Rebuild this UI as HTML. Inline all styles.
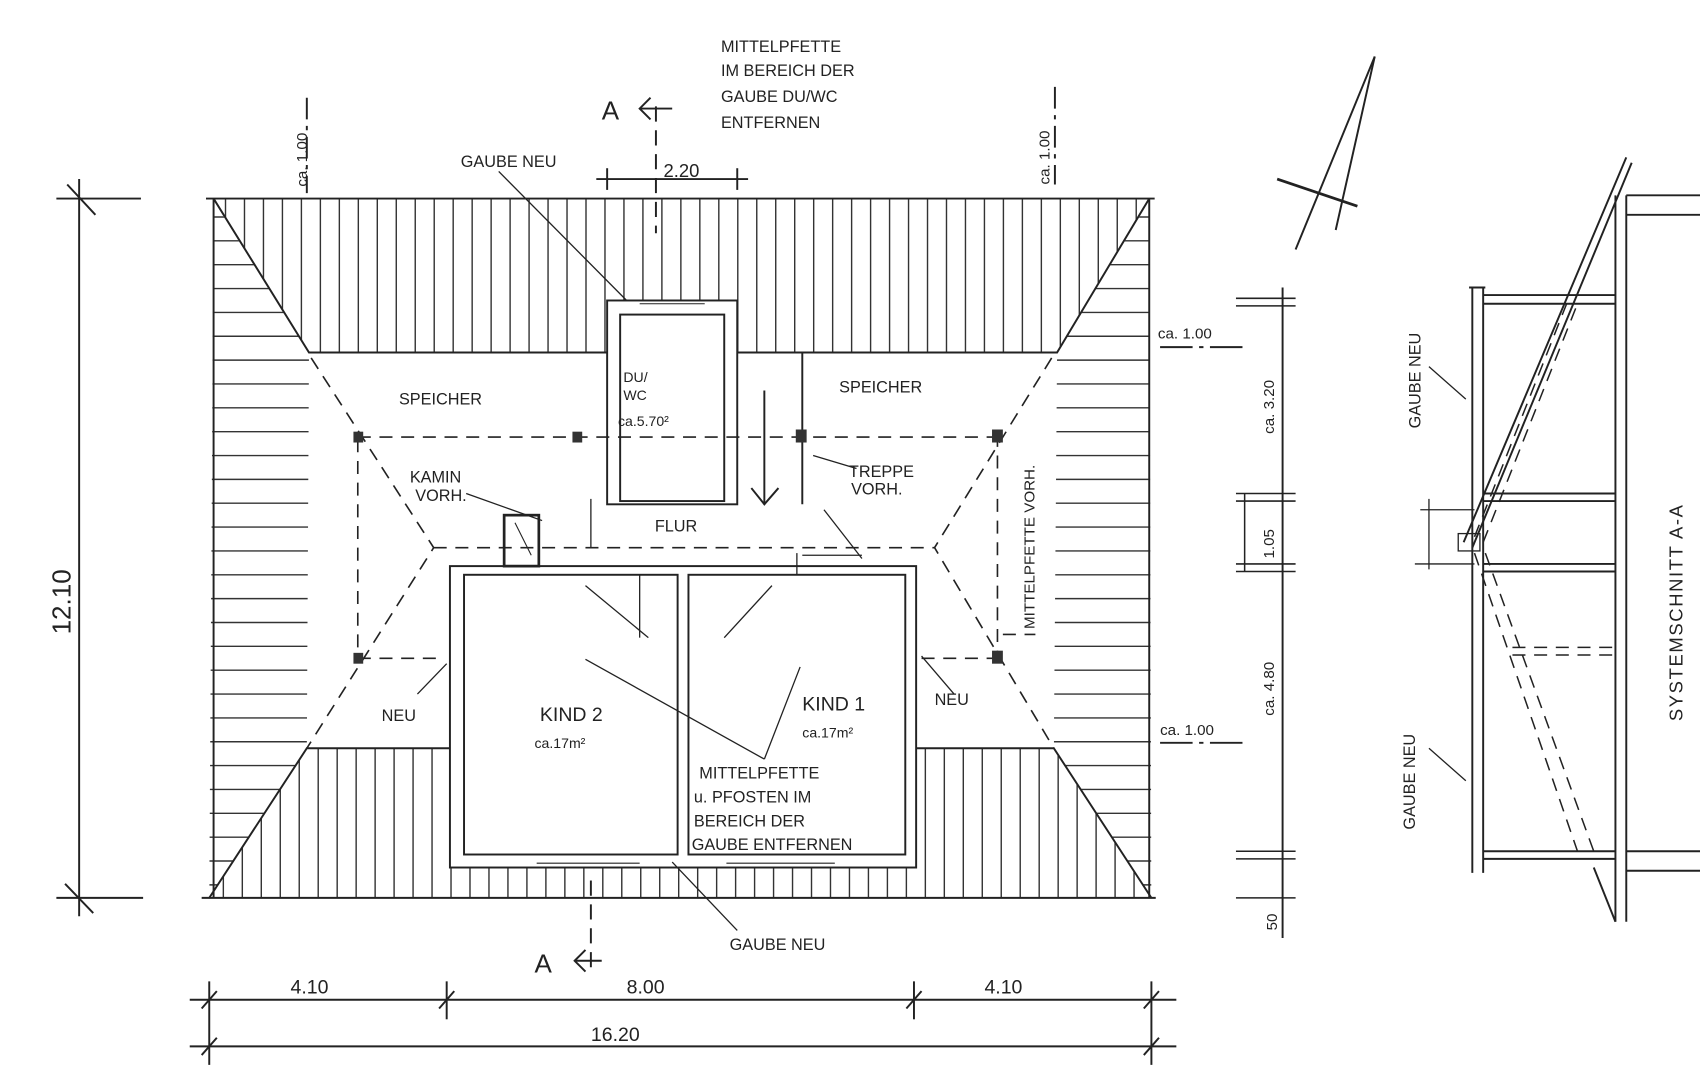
<!DOCTYPE html>
<html><head><meta charset="utf-8"><style>
html,body{margin:0;padding:0;background:#fff;overflow:hidden}
svg{display:block}
text{font-family:"Liberation Sans",sans-serif;fill:#222}
</style></head><body>
<svg id="s" width="1700" height="1065" viewBox="0 0 1568 982" xmlns="http://www.w3.org/2000/svg">
<defs>
<clipPath id="cTop"><polygon points="197,183 1060,183 975,325 680,325 680,277 560,277 560,325 285,325"/></clipPath>
<clipPath id="cL"><polygon points="197,185 285,325 283,690 193,828"/></clipPath>
<clipPath id="cR"><polygon points="1060,185 975,325 972,690 1062,828"/></clipPath>
<clipPath id="cB"><polygon points="193,828 283,690 415,690 415,800 845,800 845,690 972,690 1062,828"/></clipPath>
</defs>
<g id="hatch" stroke="#333" stroke-width="1.3"></g>
<g fill="none" stroke="#222" stroke-width="1.8">
<!-- outline -->
<line x1="190" y1="183" x2="1065" y2="183"/>
<line x1="186" y1="828" x2="1066" y2="828"/>
<polyline points="197,183 285,325 560,325"/>
<polyline points="680,325 975,325 1060,183"/>
<polyline points="193,828 283,690 415,690"/>
<polyline points="845,690 972,690 1062,828"/>
<line x1="197" y1="183" x2="197" y2="828"/>
<line x1="1060" y1="183" x2="1060" y2="828"/>
<!-- dormer du/wc -->
<rect x="560" y="277" width="120" height="188"/>
<rect x="572" y="290" width="96" height="172"/>
<line x1="590" y1="280" x2="650" y2="280" stroke-width="1"/>
<!-- big dormer -->
<rect x="415" y="522" width="430" height="278"/>
<rect x="428" y="530" width="197" height="258"/>
<rect x="635" y="530" width="200" height="258"/>
<line x1="495" y1="796" x2="590" y2="796" stroke-width="1"/>
<line x1="670" y1="796" x2="770" y2="796" stroke-width="1"/>
<!-- chimney -->
<rect x="465" y="475" width="32" height="47" stroke-width="2.5"/>
<line x1="475" y1="482" x2="490" y2="512" stroke-width="1"/>
<!-- stairs -->
<line x1="705" y1="360" x2="705" y2="465"/>
<line x1="740" y1="325" x2="740" y2="465"/>
<polyline points="693,450 705,465 718,450"/>
<line x1="545" y1="460" x2="545" y2="505" stroke-width="1.2"/>
<line x1="590" y1="530" x2="590" y2="588" stroke-width="1.2"/>
<line x1="540" y1="540" x2="598" y2="588" stroke-width="1.2"/>
<line x1="712" y1="540" x2="668" y2="588" stroke-width="1.2"/>
<line x1="735" y1="510" x2="735" y2="530" stroke-width="1.2"/>
<line x1="740" y1="512" x2="795" y2="512" stroke-width="1.2"/>
<!-- dashed -->
<g stroke-dasharray="12,8" stroke-width="1.5">
<line x1="330" y1="403" x2="920" y2="403"/>
<line x1="400" y1="505" x2="862" y2="505"/>
<line x1="330" y1="607" x2="410" y2="607"/>
<line x1="850" y1="607" x2="920" y2="607"/>
<line x1="330" y1="405" x2="330" y2="607"/>
<line x1="920" y1="400" x2="920" y2="605"/>
<polyline points="287,330 400,505 283,690"/>
<polyline points="970,330 862,505 972,690"/>
<line x1="925" y1="585" x2="955" y2="585"/>
</g>
<!-- leader lines -->
<g stroke-width="1.2">
<line x1="460" y1="158" x2="578" y2="277"/>
<line x1="500" y1="480" x2="430" y2="455"/>
<line x1="750" y1="420" x2="790" y2="432"/>
<line x1="760" y1="470" x2="795" y2="515"/>
<line x1="540" y1="608" x2="705" y2="700"/>
<line x1="738" y1="615" x2="705" y2="700"/>
<line x1="385" y1="640" x2="412" y2="612"/>
<line x1="880" y1="640" x2="850" y2="605"/>
<line x1="620" y1="795" x2="680" y2="858"/>
</g>
<!-- dimension lines -->
<line x1="73" y1="165" x2="73" y2="845"/>
<line x1="52" y1="183" x2="130" y2="183"/><line x1="62" y1="170" x2="88" y2="198"/>
<line x1="52" y1="828" x2="132" y2="828"/><line x1="60" y1="815" x2="86" y2="842"/>
<line x1="175" y1="922" x2="1085" y2="922"/>
<line x1="175" y1="965" x2="1085" y2="965"/>
<line x1="193" y1="905" x2="193" y2="982"/><line x1="1062" y1="905" x2="1062" y2="982"/>
<line x1="412" y1="905" x2="412" y2="940"/><line x1="843" y1="905" x2="843" y2="940"/>
<line x1="186" y1="930" x2="200" y2="914"/><line x1="405" y1="930" x2="419" y2="914"/><line x1="836" y1="930" x2="850" y2="914"/><line x1="1055" y1="930" x2="1069" y2="914"/>
<line x1="186" y1="973" x2="200" y2="957"/><line x1="1055" y1="973" x2="1069" y2="957"/>
<line x1="1183" y1="265" x2="1183" y2="865"/>
<g stroke-width="1.4">
<line x1="1140" y1="275" x2="1195" y2="275"/><line x1="1140" y1="282" x2="1195" y2="282"/>
<line x1="1140" y1="455" x2="1195" y2="455"/><line x1="1140" y1="462" x2="1195" y2="462"/>
<line x1="1140" y1="520" x2="1195" y2="520"/><line x1="1140" y1="527" x2="1195" y2="527"/>
<line x1="1140" y1="785" x2="1195" y2="785"/><line x1="1140" y1="792" x2="1195" y2="792"/>
<line x1="1140" y1="828" x2="1195" y2="828"/>
<line x1="1148" y1="455" x2="1148" y2="527"/>
</g>
<line x1="1070" y1="320" x2="1150" y2="320" stroke-dasharray="30,6,4,6"/>
<line x1="1070" y1="685" x2="1150" y2="685" stroke-dasharray="30,6,4,6"/>
<line x1="283" y1="90" x2="283" y2="178" stroke-dasharray="20,6,4,6"/>
<line x1="973" y1="80" x2="973" y2="170" stroke-dasharray="20,6,4,6"/>
<!-- 2.20 -->
<line x1="550" y1="165" x2="690" y2="165"/>
<line x1="560" y1="155" x2="560" y2="175"/><line x1="680" y1="155" x2="680" y2="175"/>
<!-- section marks -->
<line x1="605" y1="98" x2="605" y2="215" stroke-dasharray="14,8"/>
<line x1="545" y1="812" x2="545" y2="895" stroke-dasharray="14,8"/>
<polyline points="600,90 590,100 600,110"/><line x1="590" y1="100" x2="620" y2="100"/>
<polyline points="540,876 530,886 540,896"/><line x1="530" y1="886" x2="555" y2="886"/>
<!-- north arrow -->
<line x1="1268" y1="52" x2="1195" y2="230"/>
<line x1="1268" y1="52" x2="1232" y2="212"/>
<line x1="1178" y1="165" x2="1252" y2="190" stroke-width="2.5"/>
<!-- section A-A -->
<line x1="1358" y1="265" x2="1358" y2="805"/>
<line x1="1368" y1="265" x2="1368" y2="805"/>
<line x1="1355" y1="265" x2="1370" y2="265"/>
<line x1="1490" y1="180" x2="1490" y2="850"/>
<line x1="1500" y1="180" x2="1500" y2="850"/>
<line x1="1500" y1="180" x2="1568" y2="180"/><line x1="1500" y1="198" x2="1568" y2="198"/>
<line x1="1500" y1="785" x2="1568" y2="785"/><line x1="1500" y1="803" x2="1568" y2="803"/>
<line x1="1368" y1="272" x2="1490" y2="272"/><line x1="1368" y1="280" x2="1490" y2="280"/>
<line x1="1368" y1="455" x2="1490" y2="455"/><line x1="1368" y1="462" x2="1490" y2="462"/>
<line x1="1368" y1="520" x2="1490" y2="520"/><line x1="1368" y1="527" x2="1490" y2="527"/>
<line x1="1368" y1="785" x2="1490" y2="785"/><line x1="1368" y1="792" x2="1490" y2="792"/>
<line x1="1350" y1="500" x2="1500" y2="145"/>
<line x1="1358" y1="505" x2="1505" y2="150"/>
<line x1="1470" y1="800" x2="1490" y2="850"/>
<line x1="1310" y1="470" x2="1360" y2="470" stroke-width="1.2"/>
<line x1="1305" y1="520" x2="1360" y2="520" stroke-width="1.2"/>
<line x1="1318" y1="460" x2="1318" y2="525" stroke-width="1.2"/>
<rect x="1345" y="492" width="20" height="16" stroke-width="1.2"/>
<g stroke-dasharray="12,8" stroke-width="1.4">
<line x1="1360" y1="495" x2="1445" y2="280"/>
<line x1="1368" y1="500" x2="1455" y2="280"/>
<line x1="1360" y1="510" x2="1455" y2="785"/>
<line x1="1370" y1="510" x2="1470" y2="785"/>
<line x1="1395" y1="597" x2="1490" y2="597"/><line x1="1395" y1="604" x2="1490" y2="604"/>
</g>
<line x1="1318" y1="338" x2="1352" y2="368" stroke-width="1.2"/>
<line x1="1318" y1="690" x2="1352" y2="720" stroke-width="1.2"/>
</g>
<!-- nodes -->
<g fill="#333">
<rect x="326" y="398" width="9" height="10"/><rect x="528" y="398" width="9" height="10"/>
<rect x="734" y="396" width="10" height="12"/><rect x="915" y="396" width="10" height="12"/>
<rect x="326" y="602" width="9" height="10"/><rect x="915" y="600" width="10" height="12"/>
</g>
<!-- text -->
<g font-size="15">
<text x="665" y="48">MITTELPFETTE</text>
<text x="665" y="70">IM BEREICH DER</text>
<text x="665" y="94">GAUBE DU/WC</text>
<text x="665" y="118">ENTFERNEN</text>
<text x="425" y="154">GAUBE NEU</text>
<text x="612" y="163" font-size="17">2.20</text>
<text x="368" y="373">SPEICHER</text>
<text x="774" y="362">SPEICHER</text>
<text x="575" y="352" font-size="13">DU/</text>
<text x="575" y="369" font-size="13">WC</text>
<text x="570" y="393" font-size="13">ca.5.70²</text>
<text x="378" y="445">KAMIN</text>
<text x="383" y="462">VORH.</text>
<text x="783" y="440">TREPPE</text>
<text x="785" y="456">VORH.</text>
<text x="604" y="490">FLUR</text>
<text x="498" y="665" font-size="18">KIND 2</text>
<text x="493" y="690" font-size="13">ca.17m²</text>
<text x="740" y="655" font-size="18">KIND 1</text>
<text x="740" y="680" font-size="13">ca.17m²</text>
<text x="352" y="665">NEU</text>
<text x="862" y="650">NEU</text>
<text x="645" y="718">MITTELPFETTE</text>
<text x="640" y="740">u. PFOSTEN IM</text>
<text x="640" y="762">BEREICH DER</text>
<text x="638" y="784">GAUBE ENTFERNEN</text>
<text x="673" y="876">GAUBE NEU</text>
<text x="1068" y="312" font-size="14">ca. 1.00</text>
<text x="1070" y="678" font-size="14">ca. 1.00</text>
<text x="268" y="916" font-size="18">4.10</text>
<text x="578" y="916" font-size="18">8.00</text>
<text x="908" y="916" font-size="18">4.10</text>
<text x="545" y="960" font-size="18">16.20</text>
<text x="555" y="110" font-size="24">A</text>
<text x="493" y="897" font-size="24">A</text>
<text transform="translate(65,585) rotate(-90)" font-size="24">12.10</text>
<text transform="translate(283,172) rotate(-90)" font-size="14">ca. 1.00</text>
<text transform="translate(968,170) rotate(-90)" font-size="14">ca. 1.00</text>
<text transform="translate(1175,400) rotate(-90)" font-size="14">ca. 3.20</text>
<text transform="translate(1175,515) rotate(-90)" font-size="14">1.05</text>
<text transform="translate(1175,660) rotate(-90)" font-size="14">ca. 4.80</text>
<text transform="translate(1178,858) rotate(-90)" font-size="14">50</text>
<text transform="translate(954,580) rotate(-90)" font-size="14">MITTELPFETTE VORH.</text>
<text transform="translate(1310,395) rotate(-90)" font-size="15">GAUBE NEU</text>
<text transform="translate(1305,765) rotate(-90)" font-size="15">GAUBE NEU</text>
<text transform="translate(1552,665) rotate(-90)" font-size="17" letter-spacing="1.5">SYSTEMSCHNITT  A-A</text>
</g>
</svg>
<script>
var h=document.getElementById('hatch'),NS='http://www.w3.org/2000/svg';
function L(x1,y1,x2,y2,c){var g=document.createElementNS(NS,'line');g.setAttribute('x1',x1);g.setAttribute('y1',y1);g.setAttribute('x2',x2);g.setAttribute('y2',y2);g.setAttribute('clip-path','url(#'+c+')');h.appendChild(g);}
for(var x=208;x<1060;x+=17.5)L(x,183,x,330,'cTop');
for(var x=206;x<1062;x+=17.5)L(x,685,x,828,'cB');
for(var y=200;y<825;y+=22){L(190,y,290,y,'cL');L(968,y,1065,y,'cR');}
</script>
</body></html>
